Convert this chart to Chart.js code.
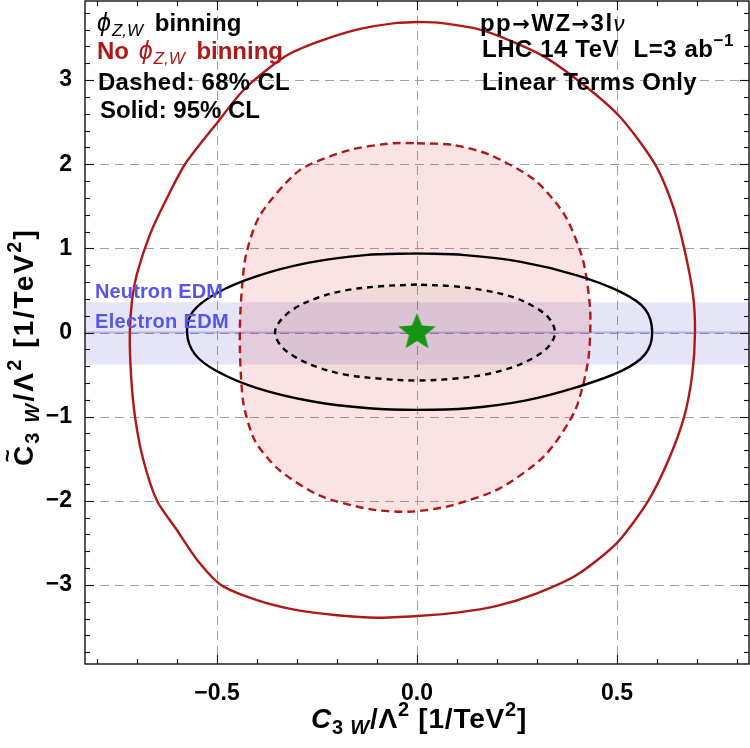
<!DOCTYPE html>
<html><head><meta charset="utf-8">
<script src="https://cdn.jsdelivr.net/npm/chart.js@4.4.1/dist/chart.umd.min.js"></script>
<style>html,body{margin:0;padding:0;background:#fff}canvas{display:block}</style>
</head><body>
<canvas id="c" width="750" height="748"></canvas>
<script>
// ---------- data ----------
const xRange = [-0.83, 0.83];
const yRange = [-3.94, 3.94];
const xTickValues = [-0.5, 0, 0.5];
const yTickValues = [-3, -2, -1, 0, 1, 2, 3];
const xMinorStep = 0.1;
const yMinorStep = 0.2;

// No phi_{Z,W} binning, 95% CL (red solid)
const noBin95 = [
  [0.0,3.69],[0.058,3.68],[0.165,3.59],[0.31,3.30],[0.415,2.95],[0.51,2.55],[0.595,2.0],
  [0.64,1.5],[0.668,1.0],[0.69,0.45],[0.695,0.0],[0.688,-0.5],[0.668,-1.0],[0.63,-1.5],
  [0.578,-2.0],[0.5,-2.5],[0.4,-2.88],[0.3,-3.1],[0.2,-3.25],[0.1,-3.33],[0.0,-3.37],
  [-0.1,-3.39],[-0.2,-3.36],[-0.3,-3.3],[-0.4,-3.18],[-0.49,-3.0],[-0.55,-2.7],[-0.6,-2.35],
  [-0.65,-2.0],[-0.685,-1.5],[-0.705,-1.0],[-0.715,-0.5],[-0.718,0.0],[-0.712,0.4],[-0.70,0.7],
  [-0.668,1.16],[-0.63,1.55],[-0.58,2.0],[-0.50,2.49],[-0.43,2.9],[-0.33,3.28],[-0.25,3.45],
  [-0.15,3.6],[-0.05,3.68],[0.0,3.69]
];
// No phi_{Z,W} binning, 68% CL (red dashed, filled)
const noBin68 = [
  [0.0,2.25],[0.09,2.23],[0.183,2.11],[0.295,1.81],[0.37,1.39],[0.415,0.86],[0.433,0.26],
  [0.428,-0.33],[0.395,-0.93],[0.32,-1.46],[0.208,-1.85],[0.083,-2.06],[-0.018,-2.13],
  [-0.118,-2.10],[-0.243,-1.94],[-0.343,-1.64],[-0.405,-1.29],[-0.435,-0.81],[-0.443,0.02],
  [-0.43,0.86],[-0.393,1.39],[-0.293,1.93],[-0.168,2.17],[-0.06,2.25],[0.0,2.25]
];
// phi_{Z,W} binning, 95% CL (black solid)
const bin95 = [
  [0.0,0.94],[-0.13,0.92],[-0.27,0.83],[-0.40,0.67],[-0.50,0.47],[-0.56,0.25],[-0.575,0.0],
  [-0.555,-0.26],[-0.50,-0.46],[-0.40,-0.66],[-0.26,-0.82],[-0.12,-0.9],[0.0,-0.92],[0.13,-0.9],
  [0.27,-0.81],[0.40,-0.65],[0.51,-0.46],[0.57,-0.26],[0.588,0.0],[0.57,0.28],[0.51,0.48],
  [0.40,0.68],[0.26,0.84],[0.12,0.92],[0.0,0.94]
];
// phi_{Z,W} binning, 68% CL (black dashed)
const bin68 = [
  [0.0,0.57],[-0.09,0.55],[-0.18,0.5],[-0.25,0.41],[-0.305,0.29],[-0.34,0.15],[-0.355,0.0],
  [-0.34,-0.16],[-0.305,-0.29],[-0.25,-0.41],[-0.18,-0.5],[-0.09,-0.55],[0.0,-0.57],[0.09,-0.55],
  [0.17,-0.5],[0.24,-0.41],[0.295,-0.29],[0.33,-0.16],[0.345,0.0],[0.33,0.17],[0.295,0.30],
  [0.24,0.42],[0.17,0.5],[0.09,0.55],[0.0,0.57]
];
const neutronEdm = [-0.38, 0.36];
const electronEdm = [-0.012, 0.012];
const smPoint = [[0, 0]];

// ---------- helpers ----------
const toPts = a => a.map(p => ({x: p[0], y: p[1]}));
const FF = 'px "Liberation Sans", Arial, "DejaVu Sans", sans-serif';
const DJ = 'px "DejaVu Sans", sans-serif';
const RED = '#b01818';
const minus = v => v < 0 ? '\u2212' + Math.abs(v) : String(v);

function makeStar(r1, r2, color) {
  const s = Math.ceil(r1 * 2 + 4);
  const c = document.createElement('canvas');
  c.width = s; c.height = s;
  const g = c.getContext('2d');
  g.translate(s / 2, s / 2);
  g.beginPath();
  for (let i = 0; i < 10; i++) {
    const r = i % 2 ? r2 : r1;
    const a = -Math.PI / 2 + i * Math.PI / 5;
    g.lineTo(r * Math.cos(a), r * Math.sin(a));
  }
  g.closePath();
  g.fillStyle = color; g.fill();
  return c;
}

// draws a run list; optional target width spreads letters evenly
function rich(ctx, runs, x, y, align, color, target) {
  const measure = ls => {
    let w = 0;
    runs.forEach(r => { ctx.font = r.f; ctx.letterSpacing = ls + 'px'; r.w = ctx.measureText(r.t).width + (r.dx || 0); w += r.w; });
    return w;
  };
  let ls = 0;
  let w = measure(0);
  if (target) {
    const n = runs.reduce((s, r) => s + [...r.t].length, 0);
    ls = (target - w) / n;
    w = measure(ls);
  }
  let cx = align === 'center' ? x - w / 2 : x;
  runs.forEach(r => {
    ctx.font = r.f;
    ctx.letterSpacing = ls + 'px';
    ctx.fillStyle = r.c || color;
    ctx.fillText(r.t, cx + (r.dx || 0), y + (r.dy || 0));
    if (r.over) {
      ctx.letterSpacing = '0px';
      ctx.font = r.overF;
      const ow = ctx.measureText(r.over).width;
      ctx.fillText(r.over, cx + (r.w - ls) / 2 - ow / 2 + (r.overDx || 0), y + r.overDy);
    }
    cx += r.w;
  });
  ctx.letterSpacing = '0px';
}

const decor = {
  id: 'decor',
  beforeDatasetsDraw(chart) {
    const {ctx, chartArea: a, scales: {x, y}} = chart;
    ctx.save();
    ctx.strokeStyle = '#a0a0a0'; ctx.lineWidth = 1; ctx.setLineDash([9, 6]);
    xTickValues.forEach(v => {
      const p = Math.round(x.getPixelForValue(v)) + 0.5;
      ctx.beginPath(); ctx.moveTo(p, a.top); ctx.lineTo(p, a.bottom); ctx.stroke();
    });
    yTickValues.forEach(v => {
      const p = Math.round(y.getPixelForValue(v)) + 0.5;
      ctx.beginPath(); ctx.moveTo(a.left, p); ctx.lineTo(a.right, p); ctx.stroke();
    });
    ctx.restore();
  },
  afterDatasetsDraw(chart) {
    const {ctx, chartArea: a, scales: {x, y}} = chart;
    ctx.save();
    // frame
    ctx.strokeStyle = '#111'; ctx.lineWidth = 1.4; ctx.setLineDash([]);
    ctx.strokeRect(a.left, a.top, a.right - a.left, a.bottom - a.top);
    // inward ticks on all sides
    ctx.lineWidth = 1.1;
    const tick = (p, len, horiz) => {
      if (horiz) {
        ctx.beginPath(); ctx.moveTo(p, a.bottom); ctx.lineTo(p, a.bottom - len); ctx.stroke();
        ctx.beginPath(); ctx.moveTo(p, a.top); ctx.lineTo(p, a.top + len); ctx.stroke();
      } else {
        ctx.beginPath(); ctx.moveTo(a.left, p); ctx.lineTo(a.left + len, p); ctx.stroke();
        ctx.beginPath(); ctx.moveTo(a.right, p); ctx.lineTo(a.right - len, p); ctx.stroke();
      }
    };
    for (let k = Math.ceil(xRange[0] / xMinorStep); k <= Math.floor(xRange[1] / xMinorStep); k++) {
      const v = k * xMinorStep;
      const major = xTickValues.some(t => Math.abs(t - v) < 1e-6);
      tick(Math.round(x.getPixelForValue(v)) + 0.5, major ? 9 : 5, true);
    }
    for (let k = Math.ceil(yRange[0] / yMinorStep); k <= Math.floor(yRange[1] / yMinorStep); k++) {
      const v = k * yMinorStep;
      const major = yTickValues.some(t => Math.abs(t - v) < 1e-6);
      tick(Math.round(y.getPixelForValue(v)) + 0.5, major ? 9 : 5, false);
    }
    ctx.textBaseline = 'alphabetic';
    ctx.textAlign = 'left';
    // EDM labels
    rich(ctx, [{t: 'Neutron EDM', f: 'bold 20' + FF}], 95, 298, 'left', '#5656ee', 128);
    rich(ctx, [{t: 'Electron EDM', f: 'bold 20' + FF}], 95, 328, 'left', '#5656ee', 134);
    // top-left legend
    const B24 = 'bold 24' + FF;
    rich(ctx, [{t: '\u03D5', f: 'italic 25' + FF}, {t: 'Z,W', f: 'italic 17' + FF, dy: 5, dx: 1}, {t: ' binning', f: B24, dx: 5}], 97, 31, 'left', '#000');
    rich(ctx, [{t: 'No ', f: B24}, {t: '\u03D5', f: 'italic 25' + FF, dx: 3}, {t: 'Z,W', f: 'italic 17' + FF, dy: 5, dx: 1}, {t: ' binning', f: B24, dx: 5}], 97, 59, 'left', RED);
    rich(ctx, [{t: 'Dashed: 68% CL', f: B24}], 98, 90, 'left', '#000', 192);
    rich(ctx, [{t: 'Solid: 95% CL', f: B24}], 100, 118, 'left', '#000');
    // top-right text
    rich(ctx, [{t: 'pp', f: B24}, {t: '\u2192', f: 'bold 21' + DJ}, {t: 'WZ', f: B24}, {t: '\u2192', f: 'bold 21' + DJ},
      {t: '3l', f: B24}, {t: '\u03BD', f: 'italic 22' + FF}], 480, 31, 'left', '#000', 146);
    rich(ctx, [{t: 'LHC 14 TeV  L=3 ab', f: B24}, {t: '\u22121', f: 'bold 17' + FF, dy: -11}], 482, 57, 'left', '#000', 252);
    rich(ctx, [{t: 'Linear Terms Only', f: B24}], 482, 90, 'left', '#000', 215);
    // x title
    const T = 'bold 28' + FF, S = 'bold 20' + FF;
    rich(ctx, [
      {t: 'C', f: 'italic bold 28' + FF},
      {t: '3 ', f: S, dy: 6}, {t: 'W', f: 'italic bold 20' + FF, dy: 6},
      {t: '/\u039B', f: T}, {t: '2', f: S, dy: -12},
      {t: ' [1/TeV', f: T}, {t: '2', f: S, dy: -12}, {t: ']', f: T}
    ], 419, 728, 'center', '#000', 216);
    // y title (rotated)
    ctx.save();
    ctx.translate(33, 347);
    ctx.rotate(-Math.PI / 2);
    rich(ctx, [
      {t: 'C', f: T, over: '~', overF: 'bold 22' + FF, overDy: -18},
      {t: '3 ', f: S, dy: 6}, {t: 'W', f: 'italic bold 20' + FF, dy: 6},
      {t: '/\u039B', f: T}, {t: '2', f: S, dy: -12},
      {t: ' [1/TeV', f: T}, {t: '2', f: S, dy: -12}, {t: ']', f: T}
    ], 0, 0, 'center', '#000', 238);
    ctx.restore();
    ctx.restore();
  }
};

const bandColor = 'rgba(80,80,200,0.15)';
const hLine = (yv) => [{x: xRange[0], y: yv}, {x: xRange[1], y: yv}];
const lineBase = {showLine: true, pointRadius: 0, pointHoverRadius: 0, fill: false};
const zeroPad = s => { s.paddingTop = 0; s.paddingBottom = 0; s.paddingLeft = 0; s.paddingRight = 0; };

new Chart(document.getElementById('c'), {
  type: 'scatter',
  data: {
    datasets: [
      {...lineBase, data: hLine(neutronEdm[1]), fill: '+1', backgroundColor: bandColor, borderWidth: 0, order: 30},
      {...lineBase, data: hLine(neutronEdm[0]), borderWidth: 0, order: 31},
      {...lineBase, data: hLine(electronEdm[1]), fill: '+1', backgroundColor: 'rgba(80,80,200,0.35)', borderWidth: 0, order: 28},
      {...lineBase, data: hLine(electronEdm[0]), borderWidth: 0, order: 29},
      {...lineBase, data: toPts(noBin68), fill: 'shape', backgroundColor: 'rgba(235,40,40,0.13)',
        borderColor: RED, borderWidth: 2.4, borderDash: [8, 5], tension: 0.25, order: 10},
      {...lineBase, data: toPts(bin68), fill: 'shape', backgroundColor: 'rgba(40,20,40,0.05)',
        borderColor: '#000', borderWidth: 2.4, borderDash: [6, 5], tension: 0.35, order: 9},
      {...lineBase, data: toPts(bin95), borderColor: '#000', borderWidth: 2.4, tension: 0.35, order: 8},
      {...lineBase, data: toPts(noBin95), borderColor: RED, borderWidth: 2.4, tension: 0.25, order: 7},
      {data: toPts(smPoint), showLine: false, pointStyle: makeStar(19.5, 8.5, '#139613'), order: 0}
    ]
  },
  options: {
    responsive: false,
    animation: false,
    devicePixelRatio: 1,
    layout: {autoPadding: false, padding: {top: 1, right: 1, left: 0, bottom: 0}},
    plugins: {legend: {display: false}, tooltip: {enabled: false}},
    scales: {
      x: {
        type: 'linear', min: xRange[0], max: xRange[1],
        grid: {display: false}, border: {display: false},
        ticks: {font: {family: '"Liberation Sans", Arial, sans-serif', size: 23, weight: 'bold'}, color: '#000',
          padding: 8, maxRotation: 0, autoSkip: false,
          callback: v => (v < 0 ? '\u2212' : '') + Math.abs(v).toFixed(1)},
        afterBuildTicks: s => { s.ticks = xTickValues.map(v => ({value: v})); },
        afterFit: s => { s.height = 84; zeroPad(s); }
      },
      y: {
        type: 'linear', min: yRange[0], max: yRange[1],
        grid: {display: false}, border: {display: false},
        ticks: {font: {family: '"Liberation Sans", Arial, sans-serif', size: 23, weight: 'bold'}, color: '#000',
          padding: 5, autoSkip: false, callback: v => minus(v)},
        afterBuildTicks: s => { s.ticks = yTickValues.map(v => ({value: v})); },
        afterFit: s => { s.width = 85; zeroPad(s); }
      }
    }
  },
  plugins: [decor]
});
</script>
</body></html>
